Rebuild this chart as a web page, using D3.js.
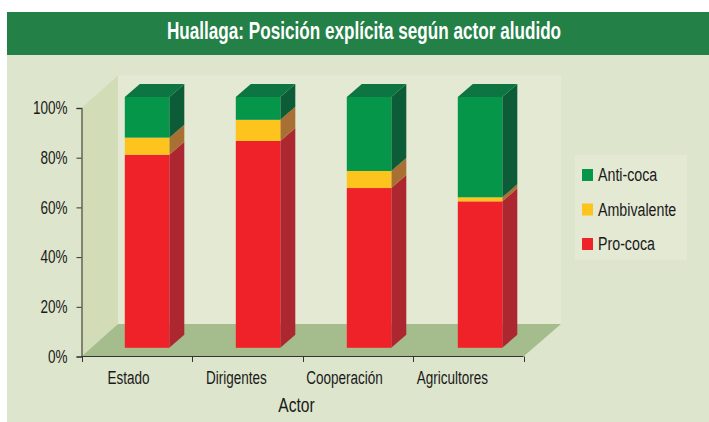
<!DOCTYPE html>
<html><head><meta charset="utf-8">
<script src="https://cdnjs.cloudflare.com/ajax/libs/d3/7.8.5/d3.min.js"></script>
<style>html,body{margin:0;padding:0;background:#fff}svg{display:block}text{font-family:"Liberation Sans",sans-serif}</style>
</head><body><script>
const categories = ["Estado","Dirigentes","Cooperación","Agricultores"];
const seriesNames = ["Pro-coca","Ambivalente","Anti-coca"];
const proCoca = [77,82.5,63.7,58.4];
const ambivalente = [6.8,8.4,6.8,1.6];
const antiCoca = [16.2,9.1,29.5,40];
const yTicks = [0,20,40,60,80,100];
const title = "Huallaga: Posición explícita según actor aludido";
const xTitle = "Actor";

const front = {"Pro-coca":"#EF2129","Ambivalente":"#FCC41C","Anti-coca":"#06964A"};
const side = {"Pro-coca":"#AD2730","Ambivalente":"#A87032","Anti-coca":"#0C5C38"};
const topCol = "#0C7541";

// The reference type is a condensed grotesque: squeeze the installed sans to the same width.
const condense = (sel, k=0.75) => sel.each(function(){
  const w = this.getComputedTextLength();
  d3.select(this).attr("lengthAdjust","spacingAndGlyphs").attr("textLength",w*k);
});

const svg = d3.select("body").append("svg").attr("width",709).attr("height",422);
svg.append("rect").attr("x",7).attr("y",12).attr("width",702).attr("height",410).attr("fill","#DDE5CC");
svg.append("rect").attr("x",7).attr("y",12).attr("width",702).attr("height",43).attr("fill","#238047");
svg.append("text").attr("x",364).attr("y",39).attr("text-anchor","middle").attr("fill","#fff")
  .attr("font-weight","bold").attr("font-size",23).text(title).call(condense,0.745);

const y = d3.scaleLinear().domain([0,100]).range([356.5,108]);
const yBar = d3.scaleLinear().domain([0,100]).range([347.8,97]);
const x = d3.scaleBand().domain(categories).range([81.5,523.5]);
const xBar = d3.scalePoint().domain(categories).range([124.8,457.8]);
const xLabel = d3.scalePoint().domain(categories).range([128.5,452.5]);
const dx = 36.5, dy = -32.5;   // wall depth
const barDx = 15, barDy = -13; // bar depth
const barW = 44.5;

// walls
const pts = a => a.map(p=>p.join(",")).join(" ");
const [xa,xb] = x.range();
svg.append("rect").attr("x",xa+dx).attr("y",y(100)+dy).attr("width",xb-xa+1).attr("height",y(0)-y(100))
  .attr("fill","#E4E9D3");
svg.append("polygon").attr("fill","#D2DDB8").attr("points",pts([[xa,y(100)],[xa+dx,y(100)+dy],[xa+dx,y(0)+dy],[xa,y(0)]]));
svg.append("polygon").attr("fill","#A5BD8D").attr("points",pts([[xa,y(0)],[xa+dx,y(0)+dy],[xb+dx+1,y(0)+dy],[xb,y(0)]]));

// bars
const stack = d3.stack().keys(seriesNames)(categories.map((c,i)=>({
  "Pro-coca":proCoca[i],"Ambivalente":ambivalente[i],"Anti-coca":antiCoca[i]})));
stack.forEach(s=>{
  const g = svg.append("g");
  s.forEach((d,i)=>{
    const x0 = xBar(categories[i]), x1 = x0+barW;
    const t = yBar(d[1]), b = yBar(d[0]);
    g.append("polygon").attr("fill",side[s.key]).attr("points",pts([[x1,b],[x1+barDx,b+barDy],[x1+barDx,t+barDy],[x1,t]]));
    if(s.key==="Anti-coca") g.append("polygon").attr("fill",topCol).attr("points",pts([[x0,t],[x0+barDx,t+barDy],[x1+barDx,t+barDy],[x1,t]]));
    g.append("rect").attr("x",x0).attr("y",t).attr("width",barW).attr("height",b-t).attr("fill",front[s.key]);
  });
});

// axes
const yAxis = d3.axisLeft(y).tickValues(yTicks).tickFormat(d=>d+"%").tickSize(5).tickPadding(9);
const gy = svg.append("g").attr("transform","translate(81.5,0)").call(yAxis);
gy.select(".domain").attr("stroke","#5c5c50").attr("stroke-width",1.4);
gy.selectAll(".tick line").attr("stroke","#333");
gy.selectAll("text").attr("font-size",18).attr("font-family",'"Liberation Sans"').attr("fill","#1a1a1a").call(condense);
const xTickVals = categories.map(c=>x(c)).concat([xb]);
const gx = svg.append("g");
gx.append("line").attr("x1",xa).attr("x2",xb).attr("y1",356.5).attr("y2",356.5).attr("stroke","#333").attr("stroke-width",1);
gx.selectAll(".t").data(xTickVals).join("line").attr("x1",d=>Math.round(d)+.5).attr("x2",d=>Math.round(d)+.5).attr("y1",356.5).attr("y2",362).attr("stroke","#333");
gx.selectAll("text").data(categories).join("text").attr("x",c=>xLabel(c)).attr("y",384).attr("text-anchor","middle")
  .attr("font-size",18).attr("fill","#1a1a1a").text(d=>d).call(condense);
svg.append("text").attr("x",296.5).attr("y",412).attr("text-anchor","middle").attr("font-size",19.5).attr("fill","#1a1a1a").text(xTitle).call(condense,0.8);

// legend
svg.append("rect").attr("x",575).attr("y",155).attr("width",112).attr("height",105).attr("fill","#E4E9D3");
const legend = svg.append("g").selectAll("g").data(seriesNames.slice().reverse()).join("g")
  .attr("transform",(d,i)=>`translate(582,${175+i*34.5})`);
legend.append("rect").attr("y",-6).attr("width",11).attr("height",12).attr("fill",d=>front[d]);
legend.append("text").attr("x",16).attr("y",6).attr("font-size",18).attr("fill","#1a1a1a").text(d=>d).call(condense,0.79);
</script></body></html>
